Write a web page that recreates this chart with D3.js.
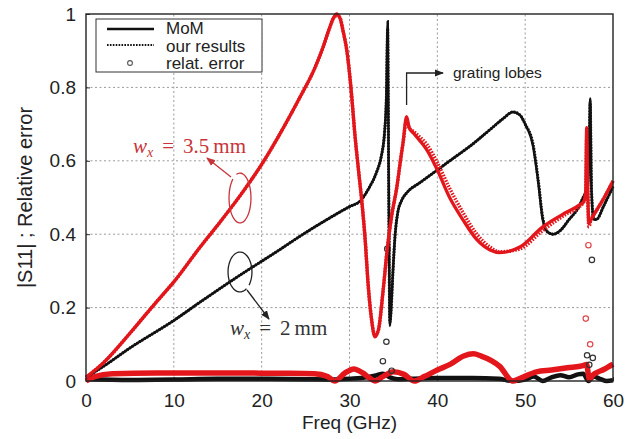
<!DOCTYPE html>
<html>
<head>
<meta charset="utf-8">
<script src="https://cdn.jsdelivr.net/npm/d3@7"></script>
<style>
  html, body { margin: 0; padding: 0; background: #fff; }
  svg { display: block; }
</style>
</head>
<body>
<div id="chart"></div>
<script>
// tick values and labels
const xTicks = [0, 10, 20, 30, 40, 50, 60];
const yTicks = [0, 0.2, 0.4, 0.6, 0.8, 1];
const yTickLabels = ['0', '0.2', '0.4', '0.6', '0.8', '1'];

// w_x = 2 mm : |S11| (MoM and our results)
const freqBlack = [0, 2, 5, 10, 13, 17, 22, 24.4, 27.8, 30, 31.2, 32.2, 33.1, 33.6, 34.0, 34.2, 34.35, 34.45, 34.6, 34.75,
  34.95, 35.2, 35.5, 36.0, 36.6, 38, 40, 42, 44, 46, 47.5, 48.6, 49.4, 50.0, 50.9, 51.5, 52.0, 52.6, 53.2, 54.0,
  55.0, 56.0, 56.6, 57.1, 57.3, 57.4, 57.55, 57.8, 58.1, 59, 60];
const momBlack = [0.01, 0.04, 0.09, 0.165, 0.215, 0.28, 0.357, 0.395, 0.445, 0.475, 0.49, 0.525, 0.57, 0.61, 0.68, 0.78, 0.98, 0.6, 0.15, 0.2,
  0.3, 0.4, 0.46, 0.495, 0.515, 0.54, 0.575, 0.61, 0.645, 0.685, 0.715, 0.733, 0.725, 0.70, 0.64, 0.54, 0.44, 0.405, 0.40, 0.41,
  0.44, 0.47, 0.50, 0.53, 0.65, 0.77, 0.52, 0.44, 0.44, 0.48, 0.53];
const oursBlack = [0.01, 0.04, 0.09, 0.165, 0.215, 0.28, 0.357, 0.395, 0.445, 0.475, 0.49, 0.525, 0.57, 0.61, 0.68, 0.77, 0.96, 0.58, 0.16, 0.2,
  0.3, 0.4, 0.46, 0.495, 0.515, 0.54, 0.575, 0.61, 0.645, 0.685, 0.715, 0.733, 0.725, 0.70, 0.645, 0.545, 0.445, 0.405, 0.40, 0.41,
  0.44, 0.47, 0.50, 0.53, 0.64, 0.76, 0.52, 0.445, 0.44, 0.48, 0.53];

// w_x = 3.5 mm : |S11| (MoM and our results)
const freqRed = [0, 2, 5, 8, 10, 13, 15, 18, 20, 22, 24.4, 26, 27, 27.7, 28.2, 28.5, 28.9, 29.3, 29.7, 30.2,
  30.6, 31.0, 31.4, 31.8, 32.1, 32.5, 32.9, 33.3, 33.8, 34.3, 34.8, 35.4, 35.8, 36.1, 36.5, 36.8, 37.3, 38.0, 38.8, 40.0,
  41.4, 42.9, 44.5, 46.0, 47.1, 49.4, 52.0, 54.7, 56.2, 56.7, 56.9, 57.0, 57.1, 57.25, 57.5, 58, 59, 60];
const momRed = [0.01, 0.05, 0.13, 0.215, 0.27, 0.365, 0.425, 0.52, 0.59, 0.67, 0.775, 0.85, 0.91, 0.96, 0.99, 1.0, 0.99, 0.95, 0.9, 0.79,
  0.675, 0.58, 0.49, 0.38, 0.27, 0.17, 0.12, 0.14, 0.24, 0.36, 0.45, 0.53, 0.6, 0.65, 0.72, 0.69, 0.675, 0.655, 0.63, 0.575,
  0.5, 0.44, 0.385, 0.357, 0.35, 0.365, 0.42, 0.46, 0.48, 0.49, 0.52, 0.69, 0.55, 0.43, 0.44, 0.46, 0.5, 0.545];
const oursRed = [0.01, 0.05, 0.13, 0.215, 0.27, 0.365, 0.425, 0.52, 0.59, 0.67, 0.775, 0.85, 0.91, 0.96, 0.99, 0.995, 0.99, 0.95, 0.9, 0.79,
  0.675, 0.58, 0.49, 0.38, 0.27, 0.17, 0.125, 0.14, 0.24, 0.36, 0.45, 0.53, 0.6, 0.65, 0.71, 0.69, 0.68, 0.665, 0.645, 0.595,
  0.525, 0.46, 0.40, 0.365, 0.352, 0.36, 0.41, 0.455, 0.475, 0.49, 0.51, 0.66, 0.54, 0.42, 0.44, 0.46, 0.5, 0.545];

// relative error
const errFreqBlack = [0, 5, 10, 15, 20, 25, 28, 30, 32, 33, 33.8, 34.6, 35.5, 37, 40, 44, 47, 48.5, 50, 51,
  52, 53, 54, 55, 56, 56.6, 57.2, 57.8, 58.5, 59.3, 60];
const errBlack = [0.005, 0.003, 0.004, 0.006, 0.006, 0.005, 0.004, 0.006, 0.01, 0.015, 0.02, 0.01, 0.005, 0.006, 0.008, 0.008, 0.006, 0.0, 0.004, 0.012,
  0.0, 0.01, 0.016, 0.01, 0.018, 0.02, 0.0, 0.012, 0.006, 0.0, 0.002];
const errFreqRed = [0, 1, 3, 8, 15, 22, 26, 27.5, 28.3, 29.5, 30.5, 31.5, 32.3, 32.9, 33.8, 35, 36.2, 37.4, 38.5, 40,
  41.5, 43, 44.1, 45, 47.1, 48.6, 49.5, 51.3, 53, 54.8, 56.6, 57.0, 57.3, 57.7, 59, 60];
const errRed = [0, 0.012, 0.02, 0.022, 0.022, 0.021, 0.02, 0.012, 0.0, 0.022, 0.033, 0.022, 0.008, 0.0, 0.012, 0.025, 0.018, 0.0, 0.012, 0.03,
  0.046, 0.068, 0.074, 0.068, 0.04, 0.0, 0.008, 0.025, 0.03, 0.036, 0.042, 0.045, 0.005, 0.016, 0.032, 0.046];
const outFreqBlack = [34.3, 34.2, 33.8, 34.8, 57.6, 57.05, 57.7, 57.3];
const outBlack = [0.36, 0.107, 0.054, 0.028, 0.33, 0.07, 0.063, 0.044];
const outFreqRed = [57.2, 56.9, 57.4];
const outRed = [0.37, 0.17, 0.10];

const W = 636, H = 439;
const margin = {left: 86, right: 23, top: 14, bottom: 58};
const RED = '#e3161c', BLACK = '#111';

const svg = d3.select('#chart').append('svg')
  .attr('width', W)
  .attr('height', H)
  .style('font-family', '"Liberation Sans", Arial, sans-serif');

const x = d3.scaleLinear().domain([0, 60]).range([margin.left, W - margin.right]);
const y = d3.scaleLinear().domain([0, 1]).range([H - margin.bottom, margin.top]);

const defs = svg.append('defs');
defs.append('marker')
  .attr('id', 'arrow')
  .attr('viewBox', '0 0 10 10')
  .attr('refX', 9).attr('refY', 5)
  .attr('markerWidth', 7).attr('markerHeight', 7)
  .attr('orient', 'auto-start-reverse')
  .append('path').attr('d', 'M0,1 L10,5 L0,9 z').attr('fill', 'context-stroke');

// grid
const grid = svg.append('g').attr('class', 'grid')
  .attr('stroke', '#9a9a9a').attr('stroke-width', 1).attr('stroke-dasharray', '2,2.5');
grid.selectAll('.gx').data(xTicks.slice(1, -1)).enter().append('line')
  .attr('x1', d => x(d)).attr('x2', d => x(d))
  .attr('y1', y(0)).attr('y2', y(1));
grid.selectAll('.gy').data(yTicks.slice(1, -1)).enter().append('line')
  .attr('x1', x(0)).attr('x2', x(60))
  .attr('y1', d => y(d)).attr('y2', d => y(d));

// axes
const axisX = svg.append('g')
  .attr('transform', `translate(0,${y(0)})`)
  .call(d3.axisBottom(x).tickValues(xTicks).tickSize(-4).tickPadding(13));
const axisY = svg.append('g')
  .attr('transform', `translate(${x(0)},0)`)
  .call(d3.axisLeft(y).tickValues(yTicks).tickFormat((d, i) => yTickLabels[i]).tickSize(-4).tickPadding(10));
[axisX, axisY].forEach(a => {
  a.select('.domain').remove();
  a.selectAll('text').attr('font-size', 19).attr('fill', '#222')
    .style('font-family', '"Liberation Sans", Arial, sans-serif');
  a.selectAll('line').attr('stroke', '#333');
});

// series
const pts = (fs, vs) => fs.map((f, i) => [f, vs[i]]);
const line = d3.line().x(d => x(d[0])).y(d => y(d[1])).curve(d3.curveMonotoneX);

const plot = svg.append('g');

// relative error bands (dense circles in the original)
plot.append('path').datum(pts(errFreqBlack, errBlack))
  .attr('d', line).attr('fill', 'none').attr('stroke', BLACK).attr('stroke-width', 4.5);
plot.append('path').datum(pts(errFreqRed, errRed))
  .attr('d', line).attr('fill', 'none').attr('stroke', RED).attr('stroke-width', 5.5);
plot.selectAll('.ob').data(pts(outFreqBlack, outBlack)).enter().append('circle')
  .attr('cx', d => x(d[0])).attr('cy', d => y(d[1])).attr('r', 2.7)
  .attr('fill', 'none').attr('stroke', '#333').attr('stroke-width', 1.2);
plot.selectAll('.or').data(pts(outFreqRed, outRed)).enter().append('circle')
  .attr('cx', d => x(d[0])).attr('cy', d => y(d[1])).attr('r', 2.7)
  .attr('fill', 'none').attr('stroke', '#e0474c').attr('stroke-width', 1.2);

// |S11| curves
plot.append('path').datum(pts(freqBlack, momBlack))
  .attr('d', line).attr('fill', 'none').attr('stroke', BLACK).attr('stroke-width', 2.5);
plot.append('path').datum(pts(freqBlack, oursBlack))
  .attr('d', line).attr('fill', 'none').attr('stroke', BLACK).attr('stroke-width', 3)
  .attr('stroke-dasharray', '1.6,1.3');
plot.append('path').datum(pts(freqRed, momRed))
  .attr('d', line).attr('fill', 'none').attr('stroke', RED).attr('stroke-width', 3.3);
plot.append('path').datum(pts(freqRed, oursRed))
  .attr('d', line).attr('fill', 'none').attr('stroke', RED).attr('stroke-width', 3.5)
  .attr('stroke-dasharray', '1.6,1.3');

// frame
svg.append('rect')
  .attr('x', x(0)).attr('y', y(1))
  .attr('width', x(60) - x(0)).attr('height', y(0) - y(1))
  .attr('fill', 'none').attr('stroke', '#222').attr('stroke-width', 1.4);

// axis titles
svg.append('text')
  .attr('x', (x(0) + x(60)) / 2).attr('y', 429)
  .attr('text-anchor', 'middle').attr('font-size', 19).attr('fill', '#222')
  .text('Freq (GHz)');
svg.append('text')
  .attr('transform', `translate(32,${(y(0) + y(1)) / 2}) rotate(-90)`)
  .attr('text-anchor', 'middle').attr('font-size', 20).attr('fill', '#222')
  .text('|S11| ; Relative error');

// legend
const lg = svg.append('g');
lg.append('rect').attr('x', 96).attr('y', 19).attr('width', 166).attr('height', 53)
  .attr('fill', '#fff').attr('stroke', '#333').attr('stroke-width', 1);
lg.append('line').attr('x1', 107).attr('x2', 154).attr('y1', 29).attr('y2', 29)
  .attr('stroke', BLACK).attr('stroke-width', 2.4);
lg.append('line').attr('x1', 107).attr('x2', 154).attr('y1', 45).attr('y2', 45)
  .attr('stroke', BLACK).attr('stroke-width', 2.2).attr('stroke-dasharray', '1.6,1.3');
lg.append('circle').attr('cx', 130).attr('cy', 63).attr('r', 2.4)
  .attr('fill', 'none').attr('stroke', '#555').attr('stroke-width', 1.1);
lg.selectAll('.lt').data(['MoM', 'our results', 'relat. error']).enter().append('text')
  .attr('x', 166).attr('y', (d, i) => 34 + i * 17.5)
  .attr('font-size', 17).attr('fill', '#222').text(d => d);

// annotations: ellipse loops with arrows
function loop(cx, cy, rx, ry, a0, a1, color) {
  const n = 40, p = [];
  for (let k = 0; k <= n; k++) {
    const t = a0 + (a1 - a0) * k / n;
    p.push([cx + rx * Math.cos(t), cy + ry * Math.sin(t)]);
  }
  svg.append('path').attr('d', d3.line().curve(d3.curveBasis)(p))
    .attr('fill', 'none').attr('stroke', color).attr('stroke-width', 1.3);
}
const redNote = '#c8343a';
loop(240, 198, 11, 25, -1.9, 4.0, redNote);
svg.append('line').attr('x1', 231).attr('y1', 177).attr('x2', 207).attr('y2', 158)
  .attr('stroke', redNote).attr('stroke-width', 1.3).attr('marker-end', 'url(#arrow)');
loop(240, 272, 12, 20, 1.0, 7.0, '#222');
svg.append('line').attr('x1', 247).attr('y1', 290).attr('x2', 269).attr('y2', 319)
  .attr('stroke', '#222').attr('stroke-width', 1.3).attr('marker-end', 'url(#arrow)');

function mathLabel(tx, ty, value, color) {
  const t = svg.append('text').attr('x', tx).attr('y', ty)
    .attr('font-family', '"Liberation Serif", "DejaVu Serif", serif')
    .attr('font-size', 21).attr('fill', color);
  t.append('tspan').attr('font-style', 'italic').text('w');
  t.append('tspan').attr('font-style', 'italic').attr('font-size', 14).attr('dy', 4).text('x');
  t.append('tspan').attr('dy', -4).attr('dx', 9).text('=');
  t.append('tspan').attr('dx', 9).text(value);
  t.append('tspan').attr('dx', 4).text('mm');
}
mathLabel(133, 153, '3.5', redNote);
mathLabel(230, 335, '2', '#333');

// grating lobes
svg.append('path').attr('d', `M${x(36.5)},105 V73 H443`)
  .attr('fill', 'none').attr('stroke', '#222').attr('stroke-width', 1.3)
  .attr('marker-end', 'url(#arrow)');
svg.append('text').attr('x', 453).attr('y', 78)
  .attr('font-size', 15.5).attr('fill', '#222').text('grating lobes');
</script>
</body>
</html>
